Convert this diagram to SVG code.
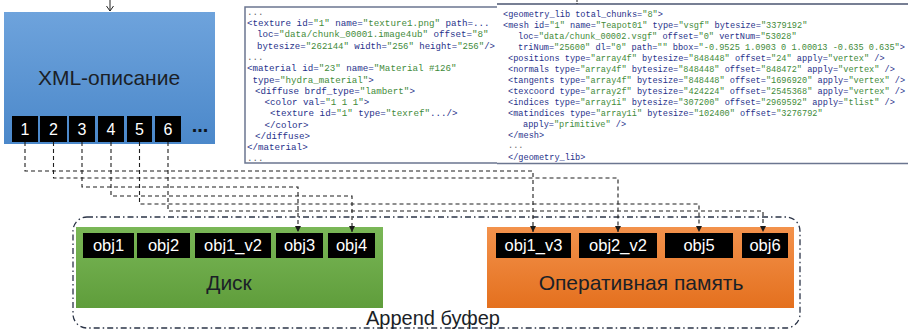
<svg xmlns="http://www.w3.org/2000/svg" width="908" height="331" viewBox="0 0 908 331">
  <defs>
    <linearGradient id="gBlue" x1="0" y1="0" x2="0" y2="1">
      <stop offset="0" stop-color="#6ea3dc"/>
      <stop offset="1" stop-color="#4b88ca"/>
    </linearGradient>
    <linearGradient id="gGreen" x1="0" y1="0" x2="0" y2="1">
      <stop offset="0" stop-color="#7ab757"/>
      <stop offset="1" stop-color="#5f9d3b"/>
    </linearGradient>
    <linearGradient id="gOrange" x1="0" y1="0" x2="0" y2="1">
      <stop offset="0" stop-color="#f3924c"/>
      <stop offset="1" stop-color="#e4701e"/>
    </linearGradient>
    <marker id="arrow" viewBox="0 0 8 8" refX="8" refY="4" markerWidth="6" markerHeight="6" orient="auto" markerUnits="userSpaceOnUse">
      <path d="M0,0 L8,4 L0,8 z" fill="#1a1a1a"/>
    </marker>
  </defs>
  <style>
    .label { font-family: "Liberation Sans", Arial, sans-serif; fill: #1b1f27; }
    .chip { fill: #000; }
    .chipText { font-family: "Liberation Sans", Arial, sans-serif; font-size: 16.5px; fill: #fff; text-anchor: middle; }
    .num { font-family: "Liberation Sans", Arial, sans-serif; font-size: 16px; fill: #fff; text-anchor: middle; }
    .code { font-family: "Liberation Mono", "DejaVu Sans Mono", monospace; fill: #27318a; white-space: pre; }
    .codeL { font-size: 9.2px; }
    .codeR { font-size: 8.6px; }
    .v { fill: #3f8b3a; }
    .dots { fill: #666; }
    .link { fill: none; stroke: #1e1e1e; stroke-width: 1.1; stroke-dasharray: 4 3; }
  </style>

  <!-- incoming arrow on top of the XML block -->
  <g id="in-arrow" fill="none" stroke="#222" stroke-width="1">
    <line x1="110" y1="0" x2="110" y2="11"/>
    <polyline points="106.5,6 110,11 113.5,6"/>
  </g>

  <!-- XML description block with numbered chunks -->
  <g id="xml">
    <rect x="4" y="12" width="211" height="132" fill="url(#gBlue)"/>
    <text class="label" x="109" y="85" font-size="21" text-anchor="middle">XML-описание</text>
    <rect class="chip" x="12" y="116" width="26" height="26"/>
    <rect class="chip" x="40" y="116" width="27" height="26"/>
    <rect class="chip" x="69" y="116" width="26" height="26"/>
    <rect class="chip" x="98" y="116" width="26" height="26"/>
    <rect class="chip" x="127" y="116" width="25" height="26"/>
    <rect class="chip" x="155" y="116" width="26" height="26"/>
    <text class="num" x="25" y="135">1</text>
    <text class="num" x="53.5" y="135">2</text>
    <text class="num" x="82" y="135">3</text>
    <text class="num" x="111" y="135">4</text>
    <text class="num" x="139.5" y="135">5</text>
    <text class="num" x="168" y="135">6</text>
    <text x="200" y="132" font-family="Liberation Sans, Arial, sans-serif" font-size="20" font-weight="bold" fill="#0d1420" text-anchor="middle">...</text>
  </g>

  <!-- XML listing: geometry library -->
  <g id="code-geometry" xml:space="preserve">
    <rect x="497" y="4" width="412" height="160" fill="#fff"/>
    <line x1="497" y1="4" x2="908" y2="4" stroke="#4a5570" stroke-width="1.3"/>
    <line x1="497" y1="163.5" x2="908" y2="163.5" stroke="#6b7690" stroke-width="1.5"/>
    <line x1="577" y1="0" x2="577" y2="4" stroke="#222" stroke-width="1" stroke-dasharray="2 1"/>
    <text class="code codeR" x="503" y="17">&lt;geometry_lib total_chunks=<tspan class="v">"8"</tspan>&gt;</text>
    <text class="code codeR" x="503" y="28">&lt;mesh id=<tspan class="v">"1"</tspan> name=<tspan class="v">"Teapot01"</tspan> type=<tspan class="v">"vsgf"</tspan> bytesize=<tspan class="v">"3379192"</tspan></text>
    <text class="code codeR" x="518" y="39">loc=<tspan class="v">"data/chunk_00002.vsgf"</tspan> offset=<tspan class="v">"0"</tspan> vertNum=<tspan class="v">"53028"</tspan></text>
    <text class="code codeR" x="518" y="50">triNum=<tspan class="v">"25600"</tspan> dl=<tspan class="v">"0"</tspan> path=<tspan class="v">""</tspan> bbox=<tspan class="v">"-0.9525 1.0903 0 1.00013 -0.635 0.635"</tspan>&gt;</text>
    <text class="code codeR" x="508" y="61">&lt;positions type=<tspan class="v">"array4f"</tspan> bytesize=<tspan class="v">"848448"</tspan> offset=<tspan class="v">"24"</tspan> apply=<tspan class="v">"vertex"</tspan> /&gt;</text>
    <text class="code codeR" x="508" y="72">&lt;normals type=<tspan class="v">"array4f"</tspan> bytesize=<tspan class="v">"848448"</tspan> offset=<tspan class="v">"848472"</tspan> apply=<tspan class="v">"vertex"</tspan> /&gt;</text>
    <text class="code codeR" x="508" y="83">&lt;tangents type=<tspan class="v">"array4f"</tspan> bytesize=<tspan class="v">"848448"</tspan> offset=<tspan class="v">"1696920"</tspan> apply=<tspan class="v">"vertex"</tspan> /&gt;</text>
    <text class="code codeR" x="508" y="94">&lt;texcoord type=<tspan class="v">"array2f"</tspan> bytesize=<tspan class="v">"424224"</tspan> offset=<tspan class="v">"2545368"</tspan> apply=<tspan class="v">"vertex"</tspan> /&gt;</text>
    <text class="code codeR" x="508" y="105">&lt;indices type=<tspan class="v">"array1i"</tspan> bytesize=<tspan class="v">"307200"</tspan> offset=<tspan class="v">"2969592"</tspan> apply=<tspan class="v">"tlist"</tspan> /&gt;</text>
    <text class="code codeR" x="508" y="116">&lt;matindices type=<tspan class="v">"array1i"</tspan> bytesize=<tspan class="v">"102400"</tspan> offset=<tspan class="v">"3276792"</tspan></text>
    <text class="code codeR" x="523" y="127">apply=<tspan class="v">"primitive"</tspan> /&gt;</text>
    <text class="code codeR" x="508" y="138">&lt;/mesh&gt;</text>
    <text class="code codeR dots" x="508" y="148">...</text>
    <text class="code codeR" x="508" y="160">&lt;/geometry_lib&gt;</text>
  </g>

  <!-- XML listing: textures and materials (open on its right side) -->
  <g id="code-materials" xml:space="preserve">
    <rect x="245" y="7" width="252" height="156" fill="#fff"/>
    <path d="M497,7 H245 V163 H497" fill="none" stroke="#6b7690" stroke-width="1.5"/>
    <text class="code codeL dots" x="247" y="15">...</text>
    <text class="code codeL" x="247" y="26">&lt;texture id=<tspan class="v">"1"</tspan> name=<tspan class="v">"texture1.png"</tspan> path=...</text>
    <text class="code codeL" x="257" y="37.3">loc=<tspan class="v">"data/chunk_00001.image4ub"</tspan> offset=<tspan class="v">"8"</tspan></text>
    <text class="code codeL" x="257" y="48.6" textLength="238" lengthAdjust="spacingAndGlyphs">bytesize=<tspan class="v">"262144"</tspan> width=<tspan class="v">"256"</tspan> height=<tspan class="v">"256"</tspan>/&gt;</text>
    <text class="code codeL dots" x="247" y="59.9">...</text>
    <text class="code codeL" x="247" y="71.2">&lt;material id=<tspan class="v">"23"</tspan> name=<tspan class="v">"Material #126"</tspan></text>
    <text class="code codeL" x="252.5" y="82.5">type=<tspan class="v">"hydra_material"</tspan>&gt;</text>
    <text class="code codeL" x="255" y="93.8">&lt;diffuse brdf_type=<tspan class="v">"lambert"</tspan>&gt;</text>
    <text class="code codeL" x="264.5" y="105.1">&lt;color val=<tspan class="v">"1 1 1"</tspan>&gt;</text>
    <text class="code codeL" x="270" y="116.4">&lt;texture id=<tspan class="v">"1"</tspan> type=<tspan class="v">"texref"</tspan>.../&gt;</text>
    <text class="code codeL" x="264.5" y="127.7">&lt;/color&gt;</text>
    <text class="code codeL" x="255" y="139">&lt;/diffuse&gt;</text>
    <text class="code codeL" x="247" y="150.3">&lt;/material&gt;</text>
    <text class="code codeL dots" x="247" y="161">...</text>
  </g>

  <!-- append buffer frame -->
  <g id="append-buffer">
    <rect x="73" y="217" width="727" height="111" rx="14" ry="14" fill="none" stroke="#2b3447" stroke-width="1.3" stroke-dasharray="6 3 1.5 3"/>
    <text class="label" x="433" y="325" font-size="20" text-anchor="middle">Append буфер</text>
  </g>

  <!-- disk storage -->
  <g id="disk">
    <rect x="76" y="227" width="307" height="81" fill="url(#gGreen)"/>
    <rect class="chip" x="83" y="233" width="51" height="25"/>
    <rect class="chip" x="137" y="233" width="53" height="25"/>
    <rect class="chip" x="195" y="233" width="76" height="25"/>
    <rect class="chip" x="276" y="233" width="47" height="25"/>
    <rect class="chip" x="328" y="233" width="47" height="25"/>
    <text class="chipText" x="108.5" y="251">obj1</text>
    <text class="chipText" x="163.5" y="251">obj2</text>
    <text class="chipText" x="233" y="251">obj1_v2</text>
    <text class="chipText" x="299.5" y="251">obj3</text>
    <text class="chipText" x="351.5" y="251">obj4</text>
    <text class="label" x="229" y="290" font-size="21" text-anchor="middle">Диск</text>
  </g>

  <!-- main memory -->
  <g id="ram">
    <rect x="487" y="227" width="307" height="81" fill="url(#gOrange)"/>
    <rect class="chip" x="496" y="233" width="75" height="25"/>
    <rect class="chip" x="579" y="233" width="78" height="25"/>
    <rect class="chip" x="665" y="233" width="68" height="25"/>
    <rect class="chip" x="742" y="233" width="46" height="25"/>
    <text class="chipText" x="533.5" y="251">obj1_v3</text>
    <text class="chipText" x="618" y="251">obj2_v2</text>
    <text class="chipText" x="699" y="251">obj5</text>
    <text class="chipText" x="765" y="251">obj6</text>
    <text class="label" x="641" y="290" font-size="21" text-anchor="middle">Оперативная память</text>
  </g>

  <!-- chunk-to-object connectors -->
  <g id="connectors">
    <path class="link" d="M25,142 V171 H533 V232" marker-end="url(#arrow)"/>
    <path class="link" d="M53.5,142 V178 H618 V232" marker-end="url(#arrow)"/>
    <path class="link" d="M82,142 V187 H298 V232" marker-end="url(#arrow)"/>
    <path class="link" d="M111,142 V196 H352 V232" marker-end="url(#arrow)"/>
    <path class="link" d="M139.5,142 V204 H699 V232" marker-end="url(#arrow)"/>
    <path class="link" d="M168,142 V211 H763 V232" marker-end="url(#arrow)"/>
  </g>
</svg>
